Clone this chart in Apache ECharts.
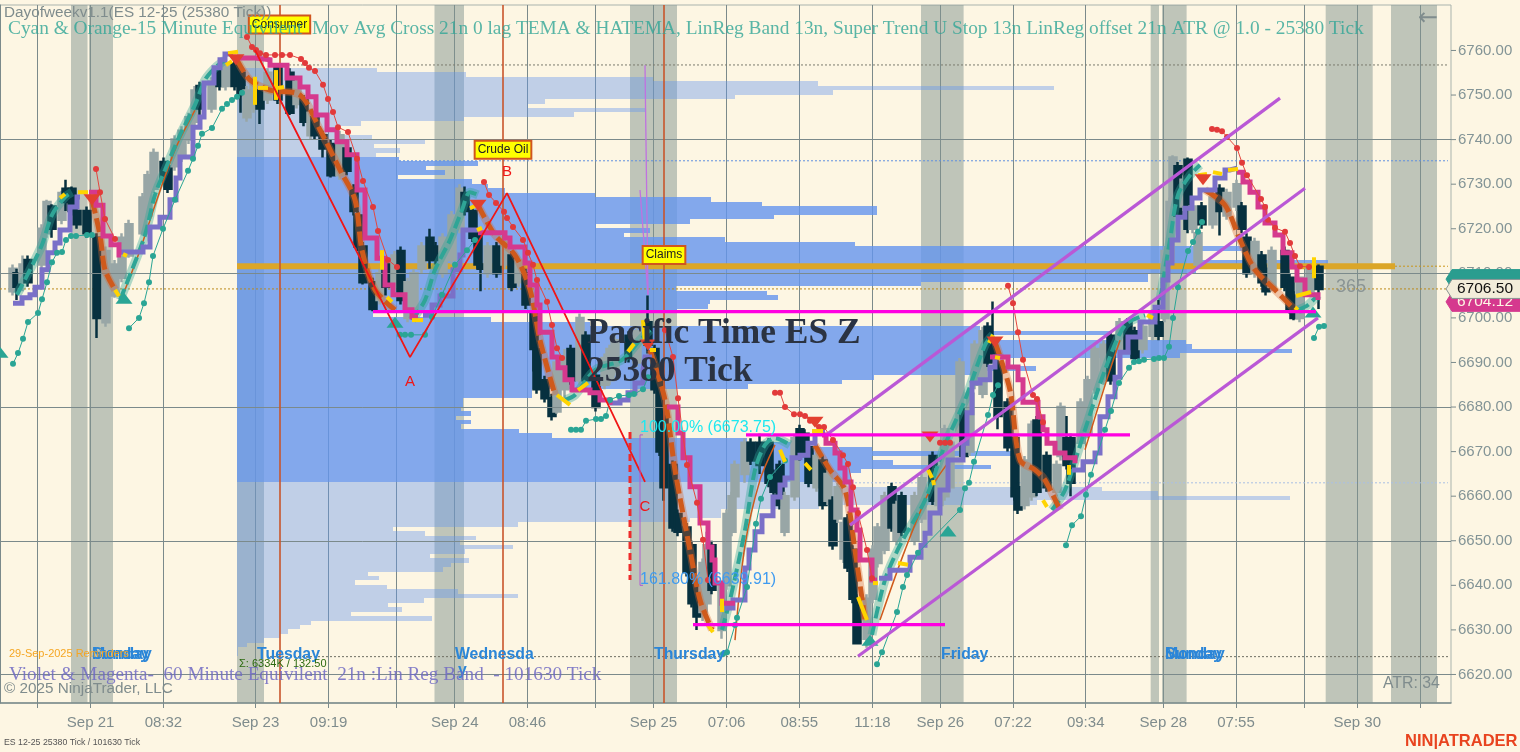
<!DOCTYPE html>
<html><head><meta charset="utf-8">
<style>html,body{margin:0;padding:0;background:#fdf6e3}#c{width:1520px;height:752px}</style>
<script src="https://cdn.jsdelivr.net/npm/echarts@6/dist/echarts.min.js"></script>
</head><body><div id="c"></div>
<script>
// x values are chart slots along the time axis, y values are ES prices.
const xTicks=[37.3,90.6,163.4,255.5,328.6,396.5,454.7,527.4,595.7,653.4,726.6,799.3,872.5,940.3,1013,1085.7,1163.3,1236,1303.9,1357.2,1420];
const xTickLabels={90.6:'Sep 21',163.4:'08:32',255.5:'Sep 23',328.6:'09:19',454.7:'Sep 24',527.4:'08:46',653.4:'Sep 25',726.6:'07:06',799.3:'08:55',872.5:'11:18',940.3:'Sep 26',1013:'07:22',1085.7:'09:34',1163.3:'Sep 28',1236:'07:55',1357.2:'Sep 30'};
const priceTicks=[6620,6630,6640,6650,6660,6670,6680,6690,6700,6710,6720,6730,6740,6750,6760];
const priceGrid=[6620,6650,6680,6710,6740];
const sessionBands=[[71,87.5],[89,113],[237,264],[434.5,464],[630,677],[921,963.6],[1150.7,1159],[1162,1186.6],[1325.7,1372.7],[1391,1437]];
const newsLines=[280,503,664];
// candles: slot, open, close, low, high
const candles=[
[13,6706,6711,6705,6712],[17,6710,6707,6704,6711],[23,6708,6712,6706,6714],[28,6713,6708,6707,6714],[42,6712,6720,6711,6721],[47,6719,6726,6718,6726.5],[52,6725,6720,6718,6725.5],[62,6722,6728,6721,6728.5],[66,6729,6726,6724,6731],[72,6729,6724,6723,6729.5],[77,6724,6721,6720,6724.5],[87,6724,6719,6718,6725],[97,6718,6700,6695.5,6719],[106,6699,6715,6698,6716],[115,6705,6712,6704.5,6713],[122,6709,6718,6708,6719],[129,6714,6721,6713.5,6722],[143,6719,6727,6718.5,6728],[148,6723,6732,6722,6733],[154,6729,6737,6728,6738],[164,6735,6731,6730,6736],[168,6734,6729,6728,6735],[175,6734,6740,6733,6741],[182,6736,6742,6735,6743],[189,6740,6745,6739,6746],[195,6744,6751,6743,6752],[200,6752,6747,6745,6753],[212,6747,6753,6746,6754],[220,6756,6752,6751,6757],[226,6752,6757,6751,6757.5],[235,6757,6752,6751,6758],[241,6755,6750,6746,6756],[247,6745,6751,6744,6752],[254,6747,6753,6746,6754],[260,6751,6747,6743.5,6752],[268,6749,6755,6748,6756],[278,6756,6749,6748,6757],[290,6755,6746,6745.5,6756],[297,6748,6753,6747,6754],[304,6749,6744,6743,6750],[311,6741,6746,6740,6747],[315,6745,6741,6740,6746],[323,6741,6738,6736,6742],[331,6739,6732,6731.5,6740],[340,6732,6741,6731,6742],[347,6738,6733,6732,6739],[354,6729,6724,6723,6730],[358,6723,6716,6715,6724],[363,6716,6708,6707.5,6717],[373,6708,6702,6701.5,6709],[380,6704,6710,6703,6711],[386,6712,6707,6705,6713],[395,6707,6714,6705,6715],[401,6715,6704,6703,6716],[408,6700,6708,6699,6709],[414,6701,6710,6700,6711],[422,6711,6716,6710,6717],[430,6718,6713,6711,6720],[436,6716,6713,6712,6717],[443,6710,6718,6709,6719],[452,6713,6723,6712,6724],[460,6720,6729,6719,6730],[465,6728,6724,6723,6729.5],[473,6724,6718,6717,6725],[478,6719,6712,6711,6720],[481,6712,6711,6706,6713],[488,6710,6716,6709,6717],[497,6716,6710,6709,6717],[505,6712,6717,6711,6718],[512,6714,6707,6706,6715],[519,6708,6713,6707,6714],[526,6710,6703,6702,6711],[534,6701,6693,6688,6702],[537,6693,6684,6683,6694],[545,6686,6682,6681,6687],[552,6682,6678,6677,6683],[557,6679,6690,6678.5,6691],[565,6684,6691,6682,6693],[571,6693,6686,6685,6694],[580,6686,6700,6685,6701],[586,6696,6686,6685,6697],[596,6687,6680,6679,6688],[605,6685,6691,6684,6692],[610,6686,6693,6685,6694],[615,6688,6695,6687,6696],[629,6696,6691,6690,6697],[637,6690,6697,6689,6698],[648,6699,6694,6692,6705],[655,6693,6684,6683,6694],[660,6686,6670,6669,6687],[664,6678,6662,6659,6686],[673,6667,6653,6652,6668],[678,6656,6652,6651,6657],[687,6653,6643,6642,6654],[692,6649,6636,6635,6650],[697,6640,6633,6630,6641],[703,6634,6645,6632,6646],[707,6636,6649,6634,6652],[712,6649,6639,6638,6650],[722,6630,6640,6628,6641],[727,6640,6656,6639,6657],[732,6652,6660,6651,6661],[735,6660,6667,6659,6668],[745,6665,6672,6663,6673],[751,6672,6668,6667,6673],[760,6672,6667,6665,6674],[769,6672,6663,6662,6673],[774,6665,6661,6660,6666],[780,6667,6658,6657,6668],[785,6652,6660,6651,6661],[795,6660,6673,6659,6674],[800,6675,6669,6668,6676],[805,6674,6670,6669,6675],[809,6671,6663,6662,6672],[817,6662,6669,6661,6670],[823,6668,6658,6657,6669],[828,6659,6665,6658,6666],[833,6659,6649,6648,6660],[838,6655,6662,6654,6663],[844,6646,6654,6645,6655],[848,6655,6644,6643,6656],[853,6648,6637,6636,6649],[857,6637,6627,6627,6638],[867,6628,6637,6626,6638],[873,6637,6648,6636,6649],[878,6645,6653,6644,6654],[885,6648,6660,6647,6661],[892,6662,6653,6652,6663],[897,6650,6658,6649,6659],[902,6660,6652,6651,6661],[915,6650,6660,6649,6661],[922,6655,6664,6654,6665],[933,6669,6659,6658,6670],[939,6658,6666,6657,6667],[945,6660,6675,6659,6676],[950,6662,6672,6661,6673],[960,6674,6690,6673,6691],[964,6679,6669,6668,6680],[970,6670,6683,6669,6684],[975,6685,6694,6684,6695],[983,6683,6697,6682,6698],[988,6698,6690,6689,6699],[993,6694,6691,6690,6703.7],[998,6690,6678,6675,6691],[1008,6681,6671,6670,6682],[1015,6673,6660,6659,6674],[1018,6662,6657,6656,6663],[1025,6658,6668,6657,6669],[1032,6660,6676,6659,6677],[1037,6677,6661,6660,6678],[1047,6669,6662,6661,6670],[1057,6661,6667,6660,6668],[1061,6669,6680,6668,6681],[1067,6673,6667,6666,6678],[1071,6673,6663,6660,6674],[1081,6672,6681,6671,6682],[1088,6674,6686,6673,6687],[1095,6684,6693,6683,6694],[1104,6686,6694,6685,6695],[1111,6696,6686,6685,6697],[1120,6693,6699,6692,6700],[1128,6699,6693,6692,6700],[1135,6697,6691,6690,6698],[1143,6693,6698,6692,6699],[1153,6696,6701,6695,6702],[1159,6699,6696,6695,6704],[1165,6700,6715,6699,6716],[1170,6713,6726,6712,6727],[1173,6724,6736,6723,6736.5],[1178,6734,6723,6722,6735],[1184,6725,6731,6724,6732],[1188,6735.5,6720,6719,6736],[1193,6720,6725,6719,6726],[1198,6712,6719,6711,6720],[1202,6725,6721,6720,6726],[1213,6721,6727,6720,6728],[1220,6729,6724,6718.5,6730],[1227,6723,6728,6722,6729],[1237,6725,6730,6724,6731],[1242,6725,6720,6719,6726],[1247,6718,6710,6709,6719],[1255,6710,6717,6709,6718],[1262,6714,6708,6707,6715],[1266,6711,6706,6705,6712],[1272,6707,6715,6706,6716],[1285,6715,6707,6706,6716],[1290,6709,6702,6701,6710],[1294,6705,6700,6699.5,6706],[1300,6700,6709,6699,6709],[1310,6706,6711,6705,6712],[1319,6711.5,6706.5,6702,6712]];
// volume profile: right end per one-point level, top level first
const profileTop=6756.1;
const profileValueAreaRows=[20,93];
const profileEnds=[377,466,653,818,1054,833,735,545,528,645,574,464,361,338,338,372,425,374,400,376,399,478,426,445,398,472,488,505,595,711,762,877,877,774,690,596,650,624,725,855,1243,1201,1201,1328,1328,1196,1148,1148,921,676,767,778,710,708,677,373,491,590,980,1110,985,1186,1192,1292,1180,980,980,1036,980,874,842,748,532,532,463,463,461,471,456,471,461,519,552,747,797,872,1012,872,893,991,861,851,851,851,1102,1158,1290,1037,819,721,721,690,518,393,425,476,460,513,465,430,469,451,443,368,379,355,387,458,518,424,388,402,351,432,311,300,288,280,264,247,238,238];
const profileStart=237;
// indicators
const magentaSteps=[
[[89,6728.2],[96,6725.3],[103,6718.4],[111,6716.4],[119,6714.1],[121,6714.1]],
[[237,6758.3],[255,6757.9],[270,6756.7],[287,6753.8],[300,6751.8],[308,6749.6],[316,6745.5],[327,6742.2],[337,6739.5],[347,6736.6],[357,6728.7],[365,6717.9],[377,6713.4],[385,6707.4],[393,6705.2],[405,6701.8],[412,6700.2],[418,6700.2]],
[[478,6719.1],[505,6717.9],[510,6715.9],[525,6712.3],[530,6707.4],[537,6702.9],[540,6696.8],[552,6691.2],[558,6688.8],[565,6686.1],[572,6683.8],[590,6683.2],[600,6681.6],[610,6680.5]],
[[667,6680],[678,6674.2],[683,6668.6],[690,6662.1],[700,6654],[708,6648.6],[712,6645.7],[715,6640.5],[722,6636],[735,6636]],
[[822,6673.7],[826,6671.9],[835,6669.7],[840,6666.3],[845,6663.2],[851,6656.9],[857,6652.4],[860,6645.7],[872,6641.2],[877,6641.2]],
[[990,6691.2],[1008,6689],[1018,6686.1],[1023,6681.1],[1038,6677.8],[1043,6674.9],[1047,6671.9],[1055,6669.7],[1065,6668.6],[1075,6667.4]],
[[1237,6732.7],[1243,6730.5],[1250,6728.2],[1258,6724.9],[1265,6721.3],[1275,6718.6],[1283,6714.6],[1292,6711.4],[1297,6708.5],[1305,6705.2],[1318,6704]]];
const violetSteps=[
[[13,6703.3],[22,6704.5],[30,6705.2],[35,6706.9],[42,6710.8],[48,6714.6],[55,6716.8],[60,6719.7],[70,6724.9],[77,6727.1],[80,6727.1]],
[[120,6714.8],[143,6715.9],[150,6720.4],[160,6722.6],[170,6726.5],[176,6731.4],[180,6736.1],[193,6742.8],[200,6745.1],[204,6752.7],[214,6756.1],[220,6757.9],[225,6759.2],[233,6759.2]],
[[423,6700.6],[432,6702.9],[440,6704.9],[453,6710.8],[460,6714.1],[463,6719.7],[478,6719.7]],
[[610,6680.9],[620,6681.6],[628,6683.2],[635,6685.4],[643,6688.3],[645,6691.2],[652,6691.2]],
[[725,6634.9],[733,6636.7],[745,6643.9],[749,6647.9],[755,6652],[762,6655.6],[773,6659.8],[780,6662.5],[785,6664.1],[792,6668.6],[800,6669.2],[808,6671.9],[815,6674.4],[825,6674.4]],
[[879,6641.6],[890,6643.4],[910,6646.3],[921,6649],[925,6651.7],[930,6656.2],[940,6661.4],[948,6668.1],[963,6671.9],[967,6678.7],[972,6685.4],[980,6686.1],[990,6689],[995,6691.2],[1003,6691.2]],
[[1072,6665.9],[1083,6667.7],[1095,6669.7],[1100,6677.8],[1108,6682.3],[1115,6686.7],[1120,6692.3],[1128,6695.7],[1140,6699.1],[1155,6702.4],[1163,6708.5],[1168,6712.3],[1172,6717.5],[1178,6722.6],[1185,6724.6],[1192,6726.9],[1200,6728.7],[1215,6731.4],[1225,6733.2],[1230,6733.6],[1237,6733.6]]];
const tealDashed=[
[[17,6705.2],[30,6710.8],[42,6716.4],[52,6723.1],[65,6727.1],[72,6728.2]],
[[120,6704],[130,6709.6],[145,6718.6],[155,6727.6],[165,6733.2],[180,6741],[195,6747.8],[205,6753.4],[215,6756.1],[225,6757.9]],
[[412,6699.5],[425,6704],[435,6710.8],[450,6717.5],[462,6724.2],[470,6728.2],[478,6727.6]],
[[565,6681.6],[575,6682.7],[595,6688.3],[622,6690.6],[640,6695],[650,6697.3]],
[[722,6630],[730,6636.7],[745,6652.4],[755,6665.9],[765,6671.5],[775,6673],[790,6671.5]],
[[872,6628.9],[885,6641.2],[900,6649],[925,6659.1],[945,6671.5],[965,6681.6],[985,6693.9],[993,6696.2]],
[[1052,6656.9],[1065,6661.4],[1085,6674.9],[1105,6688.3],[1125,6698.4],[1145,6700.6]],
[[1160,6704],[1170,6717.5],[1178,6727.6],[1190,6732],[1200,6734.3]],
[[1298,6701.8],[1308,6702.9],[1318,6705.2]]];
const orangeDashed=[
[[92,6726.5],[100,6718.6],[105,6710.8],[115,6706.3]],
[[237,6757.9],[250,6753.4],[270,6751.1],[300,6750],[320,6742.2],[340,6733.2],[355,6726.5],[362,6715.2],[375,6706.3],[395,6701.8]],
[[478,6725.3],[495,6718.6],[515,6714.1],[530,6706.3],[540,6695],[555,6682.7]],
[[650,6692.8],[665,6681.6],[675,6665.9],[690,6647.9],[700,6636.7],[712,6630]],
[[815,6671.5],[830,6665.9],[845,6661.4],[855,6647.9],[865,6632.2]],
[[995,6694.6],[1010,6683.8],[1020,6668.1],[1035,6665.9],[1045,6663.6],[1060,6656.9]],
[[1205,6728.7],[1225,6725.3],[1240,6717.5],[1255,6710.8],[1275,6706.3],[1295,6701.8]]];
const orangeThin=[
[[125,6706.3],[140,6715.2],[155,6725.3],[175,6737.7],[195,6746.6]],
[[735,6627.7],[745,6649],[760,6663.6],[775,6671.5]],
[[1085,6670.4],[1105,6684.9],[1120,6695]],
[[880,6632.2],[905,6647.9],[930,6661.4],[950,6668.1]]];
const redDots=[
[[96,6733.4],[100,6728.2],[105,6722.2],[115,6717.7]],
[[247,6763],[252,6760.8],[256,6760.1],[260,6759.4],[266,6759],[275,6759],[282,6759],[290,6759],[301,6758.1],[305,6757.2],[309,6756.1],[315,6755.4],[323,6752.3],[328,6749.1],[333,6746.2],[338,6742.8],[348,6741.7],[357,6735.7],[363,6730.7],[373,6724.9],[378,6719.5],[388,6713],[397,6711.4]],
[[484,6730.5],[489,6727.6],[496,6725.8],[504,6723.8],[507,6722.4],[513,6720.4],[523,6717.5],[528,6714.6],[533,6711.9],[537,6708.5],[547,6703.6],[552,6698.4],[557,6693.2],[562,6691]],
[[665,6697.3],[673,6691.2],[678,6682],[687,6667],[697,6658.5],[703,6650.2],[708,6641.2]],
[[775,6683.2],[780,6683.2],[785,6680],[794,6678.4],[800,6678.4],[805,6678],[810,6676.9],[819,6675.5],[824,6675.5],[833,6672.6],[843,6669.2],[848,6667.2],[853,6662],[858,6656.2],[867,6647.9],[872,6641.6]],
[[1008,6707.2],[1013,6703.3],[1018,6696.8],[1023,6690.6],[1033,6682.7],[1037,6681.8],[1043,6676.6]],
[[1212,6742.4],[1217,6742.2],[1222,6741.9],[1227,6740.6],[1237,6738.1],[1242,6734.8],[1247,6732],[1261,6726.7],[1265,6724.9],[1268,6722],[1275,6720.2],[1285,6719.3],[1290,6716.8],[1295,6713.9],[1300,6711.6],[1309,6711.4]],
[[940,6672],[945,6672],[950,6672]]];
const tealDots=[
[[13,6689.7],[18,6692.1],[23,6695.3],[28,6699.1],[38,6701.1],[42,6704.2],[47,6708],[52,6712.5],[57,6714.6],[62,6714.8],[66,6717.5],[71,6718.4],[76,6718.4],[87,6718.6],[92,6718.6]],
[[129,6697.7],[139,6700],[144,6703.3],[149,6708],[153,6713.9],[163,6720],[175,6726.5],[188,6733],[193,6735.7],[198,6738.6],[202,6741.3],[212,6742.6],[222,6746.9],[227,6748],[232,6748.9],[237,6749.6],[242,6750.5]],
[[400,6696.2],[405,6696.2],[411,6696.2],[425,6696.2],[432,6700.2],[442,6705.2],[455,6711.9],[467,6715.2],[475,6717.5]],
[[571,6674.9],[576,6674.9],[581,6674.9],[586,6676.9],[596,6677.3],[601,6677.3],[606,6678],[610,6681.6],[619,6682.5],[629,6682.7],[634,6682.9],[643,6684],[648,6686.7]],
[[723,6624.6],[727,6625],[735,6631.1],[737,6632.7],[747,6639.6],[756,6653.8],[761,6659.4],[770,6664.3],[785,6668]],
[[877,6622.3],[882,6625],[897,6634],[903,6639.6],[907,6642.3],[918,6647.3],[960,6656.9],[965,6661.8],[969,6663],[974,6667.7],[988,6678.2],[993,6682.7],[998,6684.9]],
[[1066,6649],[1072,6653.5],[1081,6655.5],[1086,6660.3],[1091,6664.8],[1105,6674.9],[1111,6679.1],[1119,6685.4],[1129,6688.8],[1134,6690.1],[1139,6690.3],[1144,6690.6],[1154,6690.8],[1159,6691],[1164,6691],[1169,6693.5],[1173,6700],[1178,6706.9],[1188,6715],[1193,6717],[1198,6719.3],[1202,6721.5]],
[[1314,6695.5],[1319,6698],[1324,6698.2]]];
const yellowDashes=[[60,6726.9,65,6727.8],[78,6728.2,88,6728.2],[226,6756.7,232,6757.6],[228,6759.4,238,6759.7],[255,6754.1,255,6747.8],[276,6755.6,276,6748.9],[258,6751.6,268,6751.6],[278,6751.6,284,6751.8],[123,6714.3,127,6713.9],[115,6706.3,119,6704.9],[382,6715.2,382,6710.8],[387,6704.7,392,6703.6],[412,6699.5,423,6699.5],[470,6724.6,477,6725.3],[477,6719.7,482,6720.2],[557,6682.7,570,6680.5],[578,6683.8,588,6685.4],[628,6692.4,634,6694.2],[643,6699.5,645,6693.9],[650,6692.8,656,6692.8],[708,6631.1,713,6629.5],[722,6634,722,6637],[780,6670.4,785,6667.7],[805,6667.4,811,6665.9],[812,6674.6,823,6674.6],[858,6637.4,867,6632.2],[873,6640.5,878,6640.5],[898,6645,908,6644.6],[928,6665.9,932,6664.1],[933,6663.6,934,6662.5],[989,6694.4,993,6696.2],[995,6691.2,1000,6691],[1043,6659.1,1047,6657.6],[1069,6667,1069,6664.8],[1147,6700.6,1153,6700],[1198,6732,1207,6732.3],[1213,6732.7,1222,6732.3],[1228,6733.2,1238,6733.4],[1295,6702.4,1298,6701.8],[1296,6704.9,1311,6705.8],[1314,6713.6,1314,6708.9]];
const tealTriangles=[[124,6704.4],[395,6699],[0,6692.3],[948,6652.2],[870,6627.7],[1313,6701.3]];
const redTriangles=[[92,6726.5],[236,6757.9],[478,6725.3],[648,6693.9],[815,6676.6],[930,6673.3],[995,6694.6],[1203,6731]];
const abcZigzag=[[255,6760.1],[410,6691.2],[507,6728],[645,6663.2]];
const abcTarget=[[630,6674.4],[630,6641.2]];
const fibBracket=[[643,6673.75],[640,6673.75],[640,6640],[643,6640]];
const violetThin=[[[640,6728.7],[648,6705.2]],[[645,6756.7],[648,6705.2]]];
const channels=[[[826,6673.7],[1280,6749.3]],[[850,6653.5],[1305,6729.1]],[[858,6624.1],[1318,6700]]];
const magentaLevels=[[373,1316,6701.4],[746,1130,6673.75],[693,945,6631.2]];
const dottedLevels=[[285,1448,6756.75,'#7b7b6e'],[399,1448,6735.25,'#5f8fe0'],[851,1448,6663,'#a9bfe4'],[270,1448,6624,'#6e6e62'],[0,1448,6706.5,'#bb8a1a'],[1395,1448,6711.6,'#c9961c']];
const goldLevel=[[237,6711.6],[1395,6711.6]];
const newsTags=[[279.5,6765.8,'Consumer'],[503,6737.7,'Crude Oil'],[664,6714.1,'Claims']];
const dayLabels=[[92,'Monday'],[92,'Sunday'],[257,'Tuesday'],[455,'Wednesda'],[654,'Thursday'],[941,'Friday'],[1165,'Monday'],[1165,'Sunday']];
const dayLabelPrice=6624.4;
const abcLabels=[[410,6685.6,'A'],[507,6732.7,'B'],[645,6657.5,'C']];
const priceTags=[[6708.7,'','#2a9d8f','#fff'],[6703.6,'6704.12','#d5398e','#fdf6e3'],[6706.5,'6706.50','#f3edda','#111']];

const textSeries=(name,rows,z)=>({type:'scatter',name,z,symbolSize:0,silent:true,itemStyle:{color:'transparent',opacity:1},
  data:rows.map(r=>({value:[r.x,r.p],label:Object.assign({show:true,opacity:1,position:r.pos||'right',distance:0,fontFamily:'Liberation Sans'},r.style,{formatter:()=>r.t})}))});
const lineGroup=(pieces,line,extra)=>pieces.map(d=>Object.assign({type:'line',data:d,symbol:'none',silent:true,lineStyle:line,z:5},extra||{}));
const series=[];
series.push({type:'line',data:[],z:1,silent:true,
  markArea:{silent:true,itemStyle:{color:'rgba(129,148,143,.5)'},data:sessionBands.map(b=>[{xAxis:b[0]},{xAxis:b[1]}])},
  markLine:{silent:true,symbol:'none',label:{show:false},lineStyle:{color:'#7b8a8b',width:1,type:'solid'},data:priceGrid.map(p=>({yAxis:p}))}});
// profile
series.push({type:'custom',z:2,silent:true,coordinateSystem:'cartesian2d',
  data:profileEnds.map((e,i)=>[profileTop-i,profileTop-i-1,e,i>=profileValueAreaRows[0]&&i<profileValueAreaRows[1]?1:0]),
  encode:{x:2,y:0},
  renderItem(p,api){const a=api.coord([profileStart,api.value(0)]),b=api.coord([api.value(2),api.value(1)]);
    const y0=Math.round(a[1]),y1=Math.round(b[1]);
    return {type:'rect',shape:{x:a[0],y:y0,width:b[0]-a[0],height:y1-y0},style:{fill:api.value(3)?'rgba(100,149,237,.8)':'rgba(100,149,237,.4)'}};}});
series.push({type:'line',data:goldLevel,symbol:'none',silent:true,z:3,lineStyle:{color:'#dba628',width:6}});
dottedLevels.forEach(l=>series.push({type:'line',data:[[l[0],l[2]],[l[1],l[2]]],symbol:'none',silent:true,z:3,lineStyle:{color:l[3],width:1,type:[2,2]}}));
series.push({type:'line',data:[],z:3,silent:true,markLine:{silent:true,symbol:'none',label:{show:false},lineStyle:{color:'#c8552b',width:1.6,type:'solid'},data:newsLines.map(x=>({xAxis:x}))}});
// candles
series.push({type:'candlestick',z:4,silent:true,barWidth:7,data:candles,itemStyle:{color:'#98a6a6',color0:'#07303f',borderColor:'#98a6a6',borderColor0:'#07303f',borderWidth:2.5}});
// clouds
series.push(...lineGroup(tealDashed,{color:'rgba(47,165,150,.38)',width:9},{smooth:.3,z:5}));
series.push(...lineGroup(orangeDashed,{color:'rgba(214,100,50,.35)',width:8},{smooth:.3,z:5}));
series.push(...lineGroup(orangeThin,{color:'#cf5a1c',width:1.5},{smooth:.3,z:5}));
series.push(...lineGroup(tealDashed,{color:'#2fa596',width:4,type:[12,5]},{smooth:.3,z:6}));
series.push(...lineGroup(orangeDashed,{color:'#cf5a1c',width:5,type:[14,5]},{smooth:.3,z:6}));
series.push(...lineGroup(violetSteps,{color:'#7a70c8',width:5,join:'miter'},{step:'end',z:7}));
series.push(...lineGroup(magentaSteps,{color:'#d5398e',width:5,join:'miter'},{step:'end',z:7}));
series.push(...lineGroup(redDots,{color:'#e4463f',width:1},{symbol:'circle',symbolSize:6,itemStyle:{color:'#e23a3a'},z:8}));
series.push(...lineGroup(tealDots,{color:'#2aa595',width:1},{symbol:'circle',symbolSize:6,itemStyle:{color:'#2aa595'},z:8}));
series.push({type:'custom',z:9,silent:true,data:yellowDashes,encode:{x:0,y:1},
  renderItem(p,api){const a=api.coord([api.value(0),api.value(1)]),b=api.coord([api.value(2),api.value(3)]);
    return {type:'line',shape:{x1:a[0],y1:a[1],x2:b[0],y2:b[1]},style:{stroke:'#ffd400',lineWidth:4}};}});
series.push({type:'scatter',z:9,silent:true,data:tealTriangles,symbol:'triangle',symbolSize:[17,11],itemStyle:{color:'#2aa595',opacity:1},clip:true});
series.push({type:'scatter',z:9,silent:true,data:redTriangles,symbol:'triangle',symbolRotate:180,symbolSize:[17,11],itemStyle:{color:'#e2402f',opacity:1}});
series.push({type:'line',data:abcZigzag,symbol:'none',silent:true,z:10,lineStyle:{color:'#f01616',width:1.8}});
series.push({type:'line',data:abcTarget,symbol:'none',silent:true,z:10,lineStyle:{color:'#ee2a2a',width:3,type:[7,4]}});
series.push({type:'line',data:fibBracket,symbol:'none',silent:true,z:10,lineStyle:{color:'#b05ad0',width:1}});
series.push(...lineGroup(violetThin,{color:'#c072e0',width:1.3},{z:10}));
series.push(...lineGroup(channels,{color:'#ba58d6',width:3.2},{z:11}));
magentaLevels.forEach(l=>series.push({type:'line',data:[[l[0],l[2]],[l[1],l[2]]],symbol:'none',silent:true,z:11,lineStyle:{color:'#ff00e1',width:3.2}}));
const dayStyle={color:'#2b86d8',fontSize:15.8,fontWeight:'bold'};
series.push(textSeries('news',newsTags.map(t=>({x:t[0],p:t[1],t:t[2],pos:'inside',style:{color:'#222',fontSize:12,backgroundColor:'#ffff00',borderColor:'#d0551f',borderWidth:2,padding:[2,2,2,2]}})),14));
series.push(textSeries('abc',abcLabels.map(t=>({x:t[0],p:t[1],t:t[2],pos:'inside',style:{color:'#f01616',fontSize:15}})),14));
series.push(textSeries('days',dayLabels.map(t=>({x:t[0],p:dayLabelPrice,t:t[1],style:dayStyle})).concat([{x:458,p:6620.8,t:'y',style:dayStyle}]),14));
series.push(textSeries('fib',[
 {x:640,p:6675.5,t:'100.00% (6673.75)',style:{color:'#1ee8f0',fontSize:16}},
 {x:640,p:6641.3,t:'161.80% (6639.91)',style:{color:'#3f9bf0',fontSize:16}},
 {x:587,p:6696.4,t:'Pacific Time ES Z',style:{color:'#2b3342',fontSize:35.4,fontFamily:'Liberation Serif',fontWeight:'bold'}},
 {x:587,p:6687.8,t:'25380 Tick',style:{color:'#2b3342',fontSize:35.4,fontFamily:'Liberation Serif',fontWeight:'bold'}},
 {x:1336,p:6707,t:'365',style:{color:'#8a9494',fontSize:18}},
 {x:239,p:6622.3,t:'Σ: 6334K / 132.50',style:{color:'#2c6a10',fontSize:11}},
 {x:9,p:6624.6,t:'29-Sep-2025 Reminders',style:{color:'#f5a623',fontSize:11}}
],15));
// price axis ticks
series.push({type:'custom',z:3,silent:true,clip:false,data:priceTicks.map(p=>[1451,p]),encode:{x:0,y:1},
  renderItem(p,api){const c=api.coord([api.value(0),api.value(1)]);
    return {type:'line',shape:{x1:c[0],y1:c[1],x2:c[0]+5,y2:c[1]},style:{stroke:'#7b8a8b',lineWidth:1}};}});
// right tags
series.push({type:'custom',z:20,silent:true,clip:false,data:priceTags.map(t=>[1446,t[0]]),encode:{x:0,y:1},
  renderItem(p,api){const c=api.coord([api.value(0),api.value(1)]);const i=p.dataIndex;const t=priceTags[i];const x=c[0],y=c[1],h=9.5;
    return {type:'group',children:[{type:'polygon',shape:{points:[[x,y],[x+6,y-h],[x+76,y-h],[x+76,y+h],[x+6,y+h]]},style:{fill:t[2],stroke:i==2?'#8a9494':t[2],lineWidth:1}},
      {type:'text',style:{text:t[1],x:x+11,y:y,verticalAlign:'middle',fill:t[3],font:'15.5px "Liberation Sans"'}}]};}});

const chart=echarts.init(document.getElementById('c'),null,{renderer:'canvas'});
chart.setOption({
 animation:false,backgroundColor:'#fdf6e3',tooltip:{show:false},
 grid:{left:0,right:69,top:5,bottom:49,show:true,borderColor:'#a9b3ad',borderWidth:1,containLabel:false},
 xAxis:{type:'value',min:0,max:1451,
  axisLine:{lineStyle:{color:'#7b8a8b',width:1.5}},
  axisTick:{customValues:xTicks,length:5,lineStyle:{color:'#7b8a8b'}},
  axisLabel:{customValues:xTicks.filter(v=>xTickLabels[v]),formatter:v=>xTickLabels[v]||'',color:'#7f8c8d',fontSize:15,fontFamily:'Liberation Sans',margin:12,hideOverlap:false,showMinLabel:true,showMaxLabel:true},
  splitLine:{show:true,lineStyle:{color:'#7b8a8b',width:1}}},
 yAxis:{type:'value',position:'right',min:6613.6,max:6770.2,
  axisLine:{show:true,lineStyle:{color:'#7b8a8b',width:1}},
  axisTick:{show:false},
  axisLabel:{customValues:priceTicks,formatter:v=>v.toFixed(2),color:'#839496',fontSize:15,fontFamily:'Liberation Sans',margin:7,padding:[2,0,0,0]},
  splitLine:{show:false}},
 series,
 graphic:[
  {type:'text',z:100,left:4,top:5,style:{text:'Dayofweekv1.1(ES 12-25 (25380 Tick))',fill:'#7f8c8d',font:'15.3px "Liberation Sans"'}},
  {type:'text',z:100,left:8,top:19,style:{text:'Cyan & Orange-15 Minute Equivilent  Mov Avg Cross 21n 0 lag TEMA & HATEMA, LinReg Band 13n, Super Trend U Stop 13n LinReg offset 21n ATR @ 1.0 - 25380 Tick',fill:'rgba(47,165,150,.8)',font:'19.35px "Liberation Serif"'}},
  {type:'text',z:100,left:9,top:665,style:{text:'Violet & Magenta-  60 Minute Equivilent  21n :Lin Reg Band  - 101630 Tick',fill:'rgba(110,105,195,.85)',font:'19.2px "Liberation Serif"'}},
  {type:'text',z:100,left:4,top:681,style:{text:'© 2025 NinjaTrader, LLC',fill:'#7f8c8d',font:'15.3px "Liberation Sans"'}},
  {type:'text',z:100,left:1383,top:676,style:{text:'ATR: 34',fill:'#7f8c8d',font:'15.8px "Liberation Sans"'}},
  {type:'text',z:100,left:4,top:738,style:{text:'ES 12-25 25380 Tick / 101630 Tick',fill:'#555',font:'8.75px "Liberation Sans"'}},
  {type:'text',z:100,left:1405,top:733,style:{text:'NIN|ATRADER',fill:'#e8431f',font:'bold 16.5px "Liberation Sans"'}},
  {type:'text',z:100,left:1418,top:7,style:{text:'←',fill:'#7f8c8d',font:'24px "DejaVu Sans"'}}
 ]
});
</script></body></html>
